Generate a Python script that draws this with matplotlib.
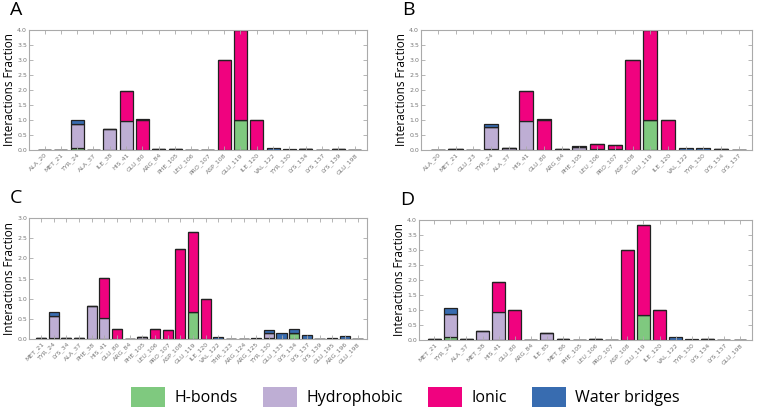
import numpy as np
import matplotlib
matplotlib.use('Agg')
import matplotlib.pyplot as plt
from matplotlib.patches import Patch

# residues and interaction fractions per panel (H-bonds, Hydrophobic, Ionic, Water bridges)
res_a = ['ALA_20', 'MET_21', 'TYR_24', 'ALA_37', 'ILE_38', 'HIS_41', 'GLU_80', 'ARG_84',
         'PHE_105', 'LEU_106', 'PRO_107', 'ASP_108', 'GLU_119', 'ILE_120', 'VAL_122',
         'TYR_130', 'LYS_134', 'LYS_137', 'LYS_139', 'GLU_198']
hb_a = [0, 0, 0.07, 0, 0, 0, 0, 0, 0, 0, 0, 0, 1.0, 0, 0, 0, 0.03, 0, 0, 0]
hp_a = [0.01, 0.01, 0.78, 0.01, 0.70, 0.95, 0, 0.02, 0.04, 0.01, 0.01, 0, 0, 0, 0, 0, 0, 0.01, 0.02, 0.01]
io_a = [0, 0, 0, 0, 0, 1.0, 1.0, 0, 0, 0, 0, 3.0, 3.0, 1.0, 0, 0, 0, 0, 0, 0]
wb_a = [0, 0, 0.15, 0, 0, 0, 0.02, 0, 0, 0, 0, 0, 0, 0, 0.07, 0.04, 0.01, 0, 0, 0]

res_b = ['ALA_20', 'MET_21', 'GLU_23', 'TYR_24', 'ALA_37', 'HIS_41', 'GLU_80', 'ARG_84',
         'PHE_105', 'LEU_106', 'PRO_107', 'ASP_108', 'GLU_119', 'ILE_120', 'VAL_122',
         'TYR_130', 'LYS_134', 'LYS_137']
hb_b = [0, 0, 0, 0.03, 0, 0, 0, 0, 0, 0.02, 0, 0, 1.0, 0, 0, 0, 0, 0]
hp_b = [0.01, 0.03, 0.01, 0.75, 0.06, 0.97, 0, 0.02, 0.10, 0, 0.02, 0, 0, 0, 0, 0, 0.04, 0.01]
io_b = [0, 0, 0, 0, 0, 1.0, 1.0, 0, 0, 0.18, 0.14, 3.0, 3.0, 1.0, 0, 0, 0, 0]
wb_b = [0, 0, 0, 0.08, 0, 0, 0.02, 0, 0.02, 0, 0, 0, 0, 0, 0.08, 0.06, 0, 0]

res_c = ['MET_21', 'TYR_24', 'LYS_34', 'ALA_37', 'PHE_38', 'HIS_41', 'GLU_80', 'ARG_84',
         'PHE_105', 'LEU_106', 'PRO_107', 'ASP_108', 'GLU_119', 'ILE_120', 'VAL_122',
         'THR_123', 'ARG_124', 'ARG_125', 'TYR_130', 'GLU_133', 'LYS_134', 'LYS_137',
         'LYS_139', 'GLU_195', 'ARG_196', 'GLU_198']
hb_c = [0, 0.02, 0, 0, 0, 0, 0, 0, 0, 0, 0, 0, 0.67, 0, 0, 0, 0, 0, 0.02, 0, 0.15, 0, 0, 0, 0, 0]
hp_c = [0.03, 0.55, 0.03, 0.02, 0.83, 0.52, 0, 0.01, 0.05, 0, 0, 0, 0, 0, 0, 0.01, 0.01, 0.01,
        0.14, 0, 0, 0, 0.01, 0, 0, 0.01]
io_c = [0, 0, 0, 0, 0, 1.0, 0.24, 0, 0, 0.24, 0.22, 2.22, 1.98, 1.0, 0, 0, 0, 0, 0, 0, 0, 0, 0, 0, 0, 0]
wb_c = [0, 0.10, 0, 0, 0, 0, 0, 0, 0, 0, 0, 0, 0, 0, 0.05, 0, 0, 0.02, 0.07, 0.16, 0.10, 0.09,
        0, 0.03, 0.07, 0]

res_d = ['MET_21', 'TYR_24', 'ALA_37', 'MET_38', 'HIS_41', 'GLU_80', 'ARG_84', 'ILE_85',
         'MET_86', 'PHE_105', 'LEU_106', 'PRO_107', 'ASP_108', 'GLU_119', 'ILE_120',
         'VAL_122', 'TYR_130', 'LYS_134', 'LYS_137', 'GLU_198']
hb_d = [0, 0.10, 0, 0, 0, 0, 0, 0, 0, 0, 0, 0, 0, 0.83, 0, 0, 0, 0, 0, 0]
hp_d = [0.03, 0.78, 0.03, 0.30, 0.93, 0, 0.01, 0.23, 0.02, 0.01, 0.03, 0.01, 0, 0, 0, 0, 0, 0.03, 0.01, 0.01]
io_d = [0, 0, 0, 0, 1.0, 1.0, 0, 0, 0, 0, 0, 0, 3.0, 3.0, 1.0, 0, 0, 0, 0, 0]
wb_d = [0, 0.18, 0, 0, 0, 0, 0, 0, 0, 0, 0, 0, 0, 0, 0, 0.09, 0.03, 0, 0, 0]

kinds = ['H-bonds', 'Hydrophobic', 'Ionic', 'Water bridges']
colors = ['#7fc97f', '#beaed4', '#f0027f', '#386cb0']

W, H = 758, 411
fig = plt.figure(figsize=(W / 100, H / 100), dpi=100)


def panel(letter, box, res, series, ymax):
    l, r, t, b = box
    ax = fig.add_axes([l / W, 1 - b / H, (r - l) / W, (b - t) / H])
    x = np.arange(len(res))
    bottom = np.zeros(len(res))
    for vals, c in zip(series, colors):
        vals = np.array(vals)
        ax.bar(x, vals, 0.8, bottom=bottom, color=c, edgecolor='#222222', linewidth=0.9)
        bottom += vals
    ax.set_xlim(-0.95, len(res) - 0.25)
    ax.set_ylim(0, ymax)
    ax.set_yticks(np.arange(0, ymax + 0.01, 0.5))
    ax.set_yticklabels(['%.1f' % v for v in np.arange(0, ymax + 0.01, 0.5)])
    ax.set_xticks(x)
    ax.set_xticklabels(res, rotation=45, ha='right', rotation_mode='anchor')
    ax.tick_params(direction='in', top=True, right=True, length=3, width=0.6,
                   color='#aaaaaa', labelsize=4.5, labelcolor='#777777', pad=1.5)
    for s in ax.spines.values():
        s.set_color('#aaaaaa')
        s.set_linewidth(0.8)
    ax.set_ylabel('Interactions Fraction', fontsize=8.5, family='Open Sans', labelpad=1)
    fig.text((l - 19) / W, 1 - (t - 20) / H, letter, fontsize=14, family='Open Sans',
             ha='left', va='center')
    return ax


panel('A', (29, 367, 30, 150), res_a, [hb_a, hp_a, io_a, wb_a], 4.0)
panel('B', (421, 752, 30, 150), res_b, [hb_b, hp_b, io_b, wb_b], 4.0)
panel('C', (29, 367, 218, 339), res_c, [hb_c, hp_c, io_c, wb_c], 3.0)
panel('D', (419, 752, 220, 340), res_d, [hb_d, hp_d, io_d, wb_d], 4.0)

handles = [Patch(facecolor=c, edgecolor='none') for c in colors]
fig.legend(handles, kinds, loc='center', bbox_to_anchor=(0.535, 1 - 397 / H), ncol=4,
           frameon=False, prop={'family': 'Open Sans', 'size': 11.5},
           handlelength=2.1, handleheight=1.5, handletextpad=0.6, columnspacing=1.6)

fig.savefig('out.png', dpi=100)
